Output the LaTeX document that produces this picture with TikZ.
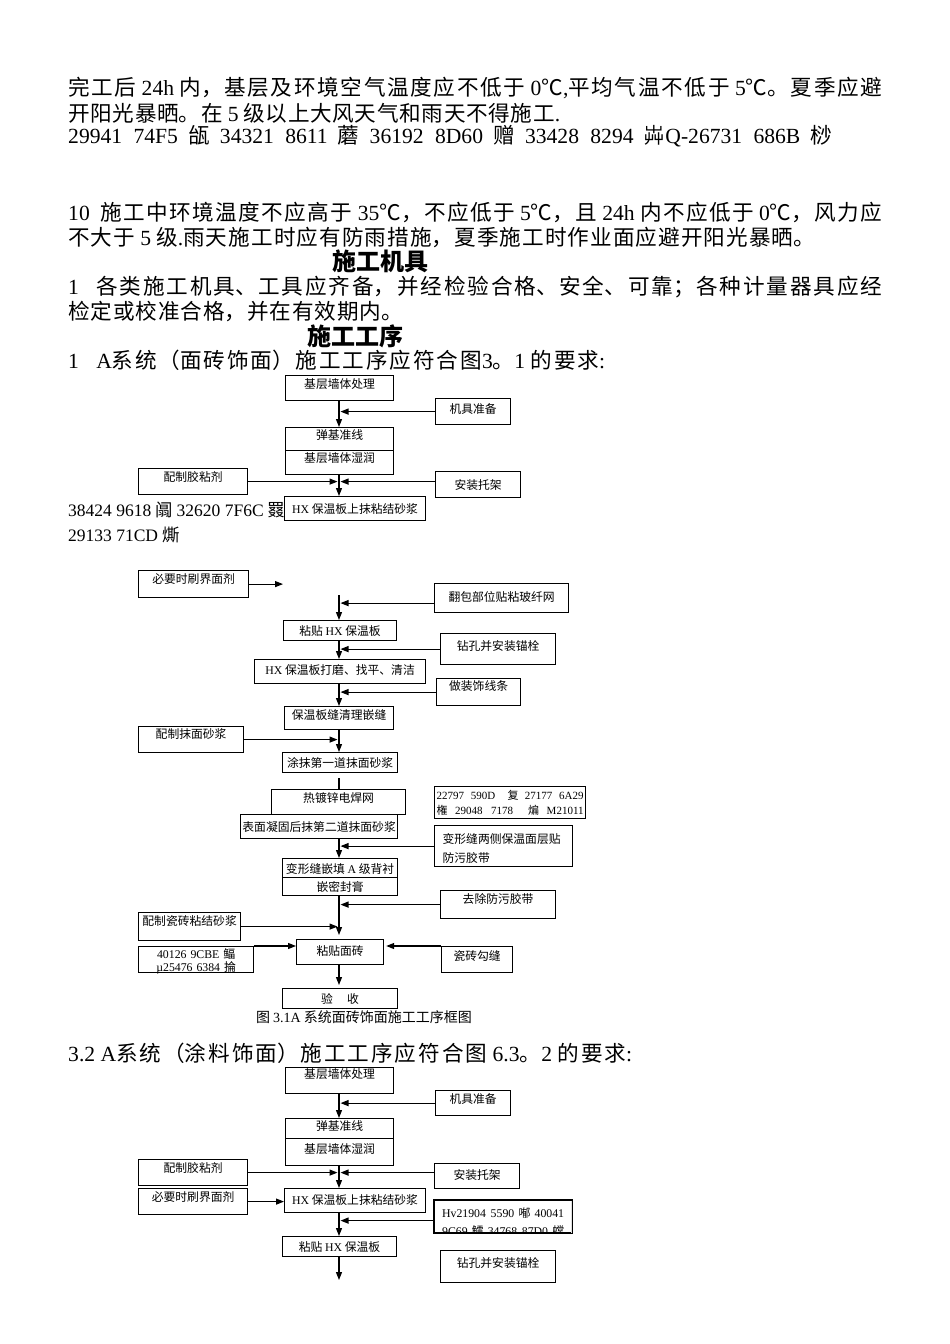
\documentclass[tikz,border=0pt]{standalone}
\usepackage{fontspec}
\setmainfont{Noto Sans CJK SC}
\newfontfamily\lat{Liberation Serif}
\usetikzlibrary{arrows.meta}
\XeTeXlinebreaklocale "zh"
\XeTeXlinebreakskip=0pt plus 8pt
\tolerance=10000
\newcommand\jst[1]{\parfillskip=0pt\relax#1\par}
\newcommand\bodyfont{\fontsize{21.6}{26}\selectfont}
\newcommand\headfont{\fontsize{24}{28}\selectfont\bfseries}
\newcommand\boxfont{\fontsize{11.8}{14}\selectfont}
\newcommand\notefont{\fontsize{17.5}{21}\selectfont}
\newcommand\capfont{\fontsize{14}{17}\selectfont}

\begin{document}
\begin{tikzpicture}[x=1pt, y=-1pt,
	procbox/.style n args={3}{draw, fill=white, line width=1.2pt, inner sep=0pt, anchor=north west, font=\boxfont, minimum width=#1pt, text height=#2pt, text depth=#3pt},
	para/.style={anchor=west, inner sep=0pt, text width=#1pt, align=justify, font=\bodyfont},
	flow/.style={-{Triangle[length=8pt, width=6pt]}, line width=1.2pt},
	link/.style={line width=1.2pt}]
	\path [use as bounding box, fill=white] (0,0) rectangle (950,1344);
	\coordinate (spine) at (339,0);

	\node [para=814] (t1) at (68,88) {\jst{完工后 {\lat 24h} 内，基层及环境空气温度应不低于 {\lat 0}℃{\lat ,}平均气温不低于 {\lat 5}℃。夏季应避}};
	\node [para=492] (t2) at (68,113) {\jst{开阳光暴晒。在 {\lat 5} 级以上大风天气和雨天不得施工{\lat .}}};
	\node [para=764] (t3) at (68,136) {\jst{{\lat 29941 74F5} 瓵 {\lat 34321 8611} 蘑 {\lat 36192 8D60} 赠 {\lat 33428 8294} 芔{\lat Q-26731 686B} 桫}};
	\node [para=814] (t4) at (68,212) {\jst{{\lat 10}\hspace{0.5em}施工中环境温度不应高于 {\lat 35}℃，不应低于 {\lat 5}℃，且 {\lat 24h} 内不应低于 {\lat 0}℃，风力应}};
	\node [para=747] (t5) at (68,237) {\jst{不大于 {\lat 5} 级{\lat .}雨天施工时应有防雨措施，夏季施工时作业面应避开阳光暴晒。}};
	\node [font=\headfont, inner sep=0pt] (h1) at (380,261) {施工机具};
	\node [para=814] (t6) at (68,287) {\jst{{\lat 1}\hspace{0.8em}各类施工机具、工具应齐备，并经检验合格、安全、可靠；各种计量器具应经}};
	\node [para=335] (t7) at (68,312) {\jst{检定或校准合格，并在有效期内。}};
	\node [font=\headfont, inner sep=0pt] (h2) at (355,336) {施工工序};
	\node [para=537] (t8) at (68,360) {\jst{{\lat 1}\hspace{0.8em}{\lat A}系统（面砖饰面）施工工序应符合图{\lat 3}。{\lat 1} 的要求{\lat :}}};
	\node [font=\notefont, anchor=west, inner sep=0pt] (n1) at (68,510) {{\lat 38424 9618} 阘 {\lat 32620 7F6C} 罬};
	\node [font=\notefont, anchor=west, inner sep=0pt] (n2) at (68,535) {{\lat 29133 71CD} 燍};
	\node [font=\capfont, inner sep=0pt] (cap) at (364,1017) {图 {\lat 3.1A} 系统面砖饰面施工工序框图};
	\node [para=564] (t9) at (68,1053) {\jst{{\lat 3.2} {\lat A}系统（涂料饰面）施工工序应符合图 {\lat 6.3}。{\lat 2} 的要求{\lat :}}};

	\node [procbox={108}{12.5}{12.5}] (a1) at (285,375) {基层墙体处理};
	\node [procbox={75}{14.5}{11.5}] (a2) at (435,398) {机具准备};
	\node [procbox={108}{11.5}{12.5}] (a3) at (285,427) {弹基准线};
	\node [procbox={108}{11.5}{12.5}] (a4) at (285,450) {基层墙体湿润};
	\node [procbox={109}{12.5}{13.5}] (a5) at (138,468) {配制胶粘剂};
	\node [procbox={85}{17.5}{8.5}] (a6) at (435,471) {安装托架};
	\node [procbox={141}{16.5}{7.5}] (a7) at (284,496) {{\lat HX} 保温板上抹粘结砂浆};
	\node [procbox={110}{12.5}{14.5}] (a8) at (138,570) {必要时刷界面剂};
	\node [procbox={134}{17.5}{11.5}] (a9) at (434,583) {翻包部位贴粘玻纤网};
	\node [procbox={113}{14.5}{5.5}] (a10) at (283,620) {粘贴 {\lat HX} 保温板};
	\node [procbox={115}{16.5}{14.5}] (a11) at (440,633) {钻孔并安装锚栓};
	\node [procbox={171}{14.5}{9.5}] (a12) at (254,659) {{\lat HX} 保温板打磨、找平、清洁};
	\node [procbox={84}{11.5}{15.5}] (a13) at (436,678) {做装饰线条};
	\node [procbox={109}{12.5}{10.5}] (a14) at (284,706) {保温板缝清理嵌缝};
	\node [procbox={105}{11.5}{14.5}] (a15) at (138,726) {配制抹面砂浆};
	\node [procbox={115}{14.5}{5.5}] (a16) at (282,752) {涂抹第一道抹面砂浆};
	\node [procbox={134}{12.5}{12.5}] (a17) at (271,789) {热镀锌电焊网};
	\node [procbox={157}{16.5}{7.5}] (a18) at (240,814) {表面凝固后抹第二道抹面砂浆};
	\node [procbox={151}{13.2}{18.8}, inner xsep=2pt, text width=147pt, align=justify, font=\fontsize{11}{15}\selectfont] (a19) at (434,786) {\jst{{\lat 22797 590D}\ \ 复 {\lat 27177 6A29}\linebreak 権 {\lat 29048 7178}\ \ 煸 {\lat M21011}}};
	\node [procbox={138}{17.5}{23.5}, inner xsep=8pt, text width=122pt, align=left, font=\fontsize{11.8}{19}\selectfont] (a20) at (434,825) {变形缝两侧保温面层贴\\防污胶带};
	\node [procbox={115}{14.5}{5.5}] (a21) at (282,858) {变形缝嵌填 {\lat A} 级背衬};
	\node [procbox={115}{13.5}{4.5}] (a22) at (282,877) {嵌密封膏};
	\node [procbox={115}{12.5}{15.5}] (a23) at (440,890) {去除防污胶带};
	\node [procbox={102}{12.5}{15.5}] (a24) at (138,912) {配制瓷砖粘结砂浆};
	\node [procbox={115}{11.5}{14.5}, inner xsep=2pt, text width=111pt, align=center, font=\fontsize{11.8}{13}\selectfont] (a25) at (138,946) {{\lat 40126 9CBE} 鲾\\{\lat µ25476 6384} 掄};
	\node [procbox={87}{15.5}{9.5}] (a26) at (296,939) {粘贴面砖};
	\node [procbox={71}{13.5}{12.5}] (a27) at (441,946) {瓷砖勾缝};
	\node [procbox={115}{14.5}{5.5}] (a28) at (282,988) {验\hspace{1.2em}收};

	\draw [flow] (spine |- a1.south) -- (spine |- a3.north);
	\draw [flow, shorten >=1.5pt] (a2.west) -- (a2.west -| spine);
	\draw [flow] (spine |- a4.south) -- (spine |- a7.north);
	\draw [flow, shorten >=1.5pt] (a5.east) -- (a5.east -| spine);
	\draw [flow, shorten >=1.5pt] (a6.west |- a5.east) -- (a5.east -| spine);
	\draw [flow] (a8.east) -- (a8.east -| a10.west);
	\coordinate (v1) at (339,595);
	\draw [flow] (v1) -- (v1 |- a10.north);
	\draw [flow, shorten >=1.5pt] ([yshift=-5pt]a9.west) -- ([yshift=-5pt]a9.west -| spine);
	\draw [flow] (spine |- a10.south) -- (spine |- a12.north);
	\draw [flow, shorten >=1.5pt] (a11.west) -- (a11.west -| spine);
	\draw [flow] (spine |- a12.south) -- (spine |- a14.north);
	\draw [flow, shorten >=1.5pt] (a13.west) -- (a13.west -| spine);
	\draw [flow] (spine |- a14.south) -- (spine |- a16.north);
	\draw [flow, shorten >=1.5pt] (a15.east) -- (a15.east -| spine);
	\draw [link, shorten <=5pt] (spine |- a16.south) -- (spine |- a17.north);
	\draw [flow] (spine |- a18.south) -- (spine |- a21.north);
	\draw [flow, shorten >=1.5pt] (a20.west) -- (a20.west -| spine);
	\draw [flow, shorten >=4pt] (spine |- a22.south) -- (spine |- a26.north);
	\draw [flow, shorten >=1.5pt] (a23.west) -- (a23.west -| spine);
	\draw [flow, shorten >=1.5pt] (a24.east) -- (a24.east -| spine);
	\draw [flow] (a25.north east) -- (a25.north east -| a26.west);
	\draw [flow, shorten >=2pt] (a27.north west) -- (a27.north west -| a26.east);
	\draw [flow, shorten >=3pt] (spine |- a26.south) -- (spine |- a28.north);

	\node [procbox={108}{10.5}{15.5}] (b1) at (285,1067) {基层墙体处理};
	\node [procbox={75}{12.5}{12.5}] (b2) at (435,1090) {机具准备};
	\node [procbox={108}{11.5}{8.5}] (b3) at (285,1118) {弹基准线};
	\node [procbox={108}{14.5}{12.5}] (b4) at (285,1138) {基层墙体湿润};
	\node [procbox={109}{12.5}{13.5}] (b5) at (138,1159) {配制胶粘剂};
	\node [procbox={85}{15.5}{9.5}] (b6) at (434,1163) {安装托架};
	\node [procbox={141}{15.5}{8.5}] (b7) at (284,1188) {{\lat HX} 保温板上抹粘结砂浆};
	\node [procbox={109}{12.5}{13.5}] (b8) at (138,1188) {必要时刷界面剂};
	\begin{scope}
		\clip (434,1200) rectangle (571,1232);
		\node [procbox={137}{16.5}{15.5}, inner xsep=7.5pt, text width=122pt, align=justify, font=\fontsize{11.8}{18}\selectfont] (b9) at (434,1200) {\jst{{\lat Hv21904 5590} 喐 {\lat 40041}\linebreak {\lat 9C69} 鱩 {\lat 34768 87D0} 蟐}};
	\end{scope}
	\draw [link] (b9.north west) rectangle (b9.south east);
	\node [procbox={114}{14.5}{5.5}] (b10) at (282,1236) {粘贴 {\lat HX} 保温板};
	\node [procbox={115}{16.5}{15.5}] (b11) at (440,1250) {钻孔并安装锚栓};

	\draw [flow] (spine |- b1.south) -- (spine |- b3.north);
	\draw [flow, shorten >=1.5pt] (b2.west) -- (b2.west -| spine);
	\draw [flow] (spine |- b4.south) -- (spine |- b7.north);
	\draw [flow, shorten >=1.5pt] (b5.east) -- (b5.east -| spine);
	\draw [flow, shorten >=1.5pt] (b6.west |- b5.east) -- (b5.east -| spine);
	\draw [flow] (b8.east) -- (b8.east -| b7.west);
	\draw [flow] (spine |- b7.south) -- (spine |- b10.north);
	\draw [flow, shorten >=1.5pt] ([yshift=-4pt]b9.west) -- ([yshift=-4pt]b9.west -| spine);
	\coordinate (e2) at (339,1280);
	\draw [flow] (spine |- b10.south) -- (e2);
\end{tikzpicture}
\end{document}
